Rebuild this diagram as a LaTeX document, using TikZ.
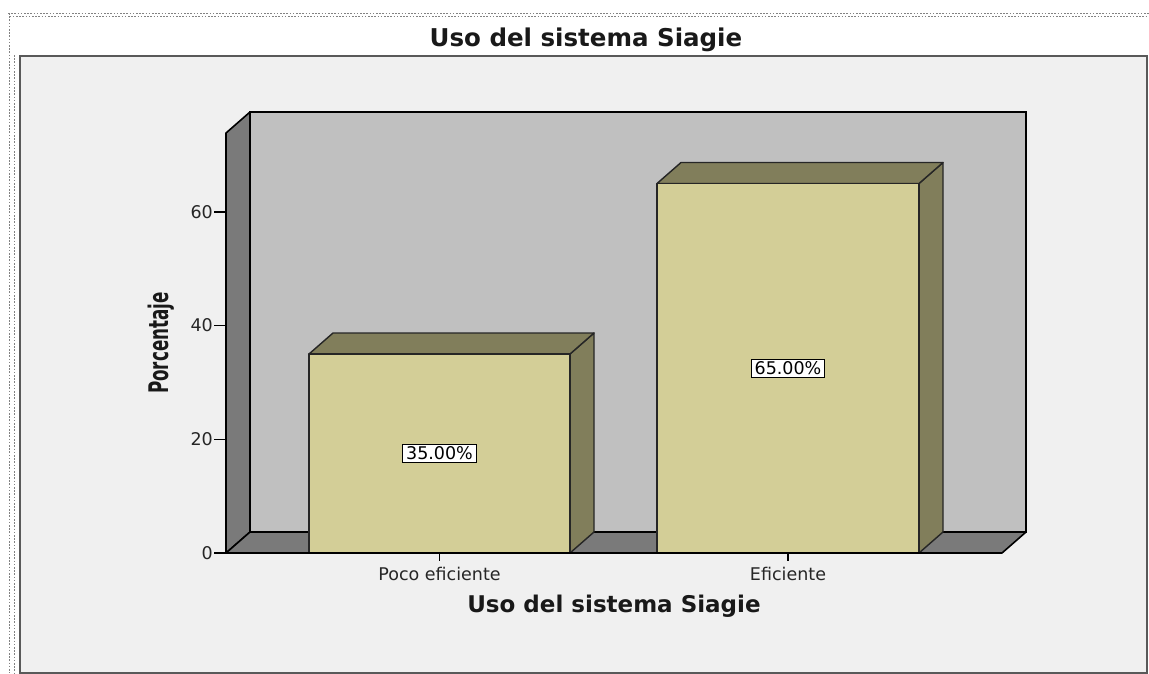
\documentclass[tikz,border=0pt]{standalone}
\usepackage{fontspec}
\setmainfont{DejaVu Sans}
\usepackage{tikz}
\usetikzlibrary{positioning}
\usetikzlibrary{arrows.meta}
\definecolor{panelgray}{RGB}{240,240,240}
\definecolor{backgray}{RGB}{192,192,192}
\definecolor{sidegray}{RGB}{122,122,122}
\definecolor{barfront}{RGB}{211,206,151}
\definecolor{bardark}{RGB}{129,126,91}
\definecolor{dotgray}{RGB}{130,130,130}
\tikzset{
    wall/.style={fill=sidegray,draw=black,line width=1.6pt,line join=round},
    barface/.style={fill=barfront,draw=black!85,line width=1.4pt,line join=round},
    barshade/.style={fill=bardark,draw=black!85,line width=1.4pt,line join=round},
    dotline/.style={draw=dotgray,line width=1.6pt,dash pattern=on 1.6pt off 1.6pt},
}

\begin{document}
\begin{tikzpicture}[x=1pt,y=-1pt]
    \useasboundingbox (0,0) rectangle (1149,673);
    \fill[white] (0,0) rectangle (1149,673);

    \draw[dotline] (8,13.5) -- (1149,13.5);
    \draw[dotline] (9.6,16.5) -- (1149,16.5);
    \draw[dotline] (9.5,13) -- (9.5,673);
    \draw[dotline] (14.5,55) -- (14.5,673);
    \draw[fill=panelgray,draw=black!65,line width=2pt] (20,56) rectangle (1147,673);

    \draw[fill=backgray,draw=black,line width=1.6pt] (250,112) rectangle (1026,532);
    \draw[wall] (226,553) -- (226,133) -- (250,112) -- (250,532) -- cycle;
    \draw[wall] (226,553) -- (250,532) -- (1026,532) -- (1002,553) -- cycle;

    \foreach \xa/\xb/\ytop in {309/570/354, 657/919/183.5}{
        \draw[barshade] (\xb,553) -- (\xb+24,532) -- (\xb+24,\ytop-21) -- (\xb,\ytop) -- cycle;
        \draw[barshade] (\xa,\ytop) -- (\xa+24,\ytop-21) -- (\xb+24,\ytop-21) -- (\xb,\ytop) -- cycle;
        \draw[barface] (\xa,553) rectangle (\xb,\ytop);
    }

    \draw[line width=1.4pt] (226,553) -- (1002,553);

    \begin{scope}[every node/.style={font=\fontsize{17.5}{20}\selectfont,text=black!85,inner sep=1pt}]
        \foreach \v/\yy in {0/553, 20/439.3, 40/325.6, 60/212}{
            \draw[line width=1.4pt] (214,\yy) -- (226,\yy);
            \node (tick\v) [anchor=east] at (214,\yy) {\v};
        }
        \draw[line width=1.4pt] (439.5,553) -- (439.5,561);
        \draw[line width=1.4pt] (788,553) -- (788,561);
        \node (poco) at (439.5,574) {Poco eficiente};
        \node (efic) at (788,574) {Eficiente};
    \end{scope}

    \begin{scope}[every node/.style={font=\fontsize{17.5}{20}\selectfont,fill=white,draw=black,line width=1.2pt,inner xsep=3.5pt,inner ysep=2pt}]
        \node (val35) at (439.5,453.5) {35.00\%};
        \node (val65) at (788,368.5) {65.00\%};
    \end{scope}

    \begin{scope}[every node/.style={font=\bfseries,text=black!90}]
        \node (title) at (586,40) {\fontsize{24.5}{28}\selectfont Uso del sistema Siagie};
        \node (xtitle) at (614,606) {\fontsize{23}{26}\selectfont Uso del sistema Siagie};
        \node (ytitle) [rotate=90] at (161,343) {\scalebox{0.62}[1]{\fontsize{27}{30}\selectfont Porcentaje}};
    \end{scope}
\end{tikzpicture}
\end{document}
